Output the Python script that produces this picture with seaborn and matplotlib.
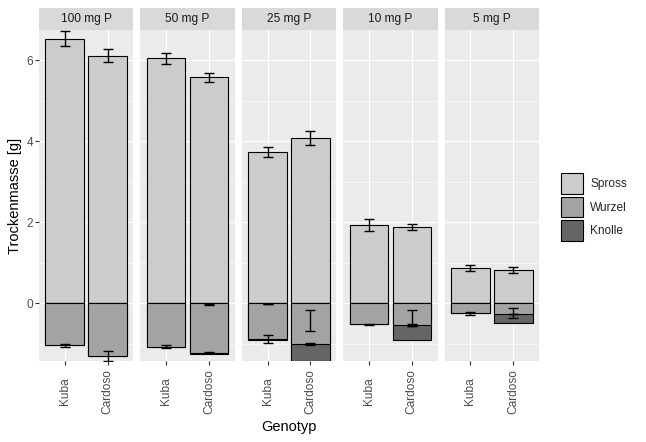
import numpy as np
import pandas as pd
import matplotlib.pyplot as plt
from matplotlib.patches import Patch, Rectangle
from matplotlib.ticker import MultipleLocator
import seaborn as sns

sns.set_theme(style='darkgrid', rc={'axes.facecolor': '#EBEBEB', 'grid.color': 'white'})
plt.rcParams['font.family'] = ['Liberation Sans', 'DejaVu Sans']

# Stufen und Genotypen
levels = ['100 mg P', '50 mg P', '25 mg P', '10 mg P', '5 mg P']
genotypes = ['Kuba', 'Cardoso']
parts = ['Spross', 'Wurzel', 'Knolle']
colors = ['#CCCCCC', '#A3A3A3', '#666666']

# Mittelwerte [g] und Fehler, Reihenfolge wie levels
spross_kuba = [6.53, 6.04, 3.73, 1.93, 0.87]
spross_kuba_sd = [0.18, 0.13, 0.13, 0.15, 0.07]
spross_cardoso = [6.11, 5.57, 4.07, 1.88, 0.82]
spross_cardoso_sd = [0.16, 0.10, 0.17, 0.07, 0.08]

wurzel_kuba = [1.03, 1.07, 0.87, 0.52, 0.24]
wurzel_kuba_sd = [0.04, 0.04, 0.10, 0.015, 0.04]
wurzel_cardoso = [1.30, 1.22, 1.00, 0.53, 0.26]
wurzel_cardoso_sd = [0.12, 0.01, 0.035, 0.025, 0.01]

knolle_kuba = [0.0, 0.0, 0.02, 0.0, 0.0]
knolle_kuba_sd = [0.0, 0.0, 0.006, 0.0, 0.0]
knolle_cardoso = [0.0, 0.02, 0.42, 0.36, 0.23]
knolle_cardoso_sd = [0.0, 0.01, 0.26, 0.20, 0.12]

rows = []
for i, lev in enumerate(levels):
    rows.append([lev, 'Kuba', spross_kuba[i], spross_kuba_sd[i], wurzel_kuba[i],
                 wurzel_kuba_sd[i], knolle_kuba[i], knolle_kuba_sd[i]])
    rows.append([lev, 'Cardoso', spross_cardoso[i], spross_cardoso_sd[i], wurzel_cardoso[i],
                 wurzel_cardoso_sd[i], knolle_cardoso[i], knolle_cardoso_sd[i]])
df = pd.DataFrame(rows, columns=['stufe', 'genotyp', 'spross', 'spross_sd', 'wurzel',
                                 'wurzel_sd', 'knolle', 'knolle_sd'])
# nach unten gestapelt: Wurzel ab 0, Knolle darunter
df['wurzel_neg'] = -df['wurzel']
df['unten'] = -(df['wurzel'] + df['knolle'])

fig, axes = plt.subplots(1, 5, figsize=(6.46, 4.42), dpi=100, sharey=True)
fig.subplots_adjust(left=39/646, right=539/646, top=1-30/442, bottom=1-361/442, wspace=0.075)

bar_kw = dict(x='genotyp', order=genotypes, errorbar=None, saturation=1,
              edgecolor='black', linewidth=0.8, width=0.9)
err_kw = dict(fmt='none', ecolor='black', elinewidth=1.0, capsize=3.6, capthick=1.0, zorder=5)

for ax, lev in zip(axes, levels):
    sub = df[df['stufe'] == lev].set_index('genotyp').loc[genotypes].reset_index()
    sns.barplot(data=sub, y='spross', color=colors[0], ax=ax, **bar_kw)
    sns.barplot(data=sub, y='unten', color=colors[2], ax=ax, **bar_kw)
    sns.barplot(data=sub, y='wurzel_neg', color=colors[1], ax=ax, **bar_kw)

    xs = np.arange(len(genotypes))
    ax.errorbar(xs, sub['spross'], yerr=sub['spross_sd'], **err_kw)
    ax.errorbar(xs, -sub['wurzel'], yerr=sub['wurzel_sd'], **err_kw)
    m = sub['knolle'] > 0
    if m.any():
        ax.errorbar(xs[m.values], -sub['knolle'][m], yerr=sub['knolle_sd'][m], **err_kw)

    ax.set_xlim(-0.6, 1.6)
    ax.set_ylim(-1.42, 6.74)
    ax.yaxis.set_major_locator(MultipleLocator(2))
    ax.yaxis.set_minor_locator(MultipleLocator(1))
    ax.grid(which='major', color='white', linewidth=0.8)
    ax.grid(which='minor', axis='y', color='white', linewidth=0.4)
    ax.set_axisbelow(True)
    for s in ax.spines.values():
        s.set_visible(False)
    ax.set_xlabel('')
    ax.set_ylabel('')

    ax.tick_params(axis='x', which='major', bottom=True, length=2.7, width=0.8,
                   color='#333333', pad=19, labelsize=8.6, labelcolor='#4D4D4D')
    ax.tick_params(axis='y', which='major', left=(ax is axes[0]), length=2.7, width=0.8,
                   color='#333333', pad=1.5, labelsize=8.6, labelcolor='#4D4D4D')
    ax.tick_params(which='minor', length=0)
    plt.setp(ax.get_xticklabels(), rotation=90, va='center', ha='center')

    # Streifen oben
    ax.add_patch(Rectangle((0, 1.0), 1, 0.0665, transform=ax.transAxes,
                           facecolor='#D9D9D9', edgecolor='none', clip_on=False))
    ax.text(0.5, 1.033, lev, transform=ax.transAxes, ha='center', va='center',
            fontsize=8.6, color='#1A1A1A')

fig.text(289/646, 1-427/442, 'Genotyp', ha='center', va='center', fontsize=10.5, color='black')
fig.text(15/646, 1-195.5/442, 'Trockenmasse [g]', ha='center', va='center',
         rotation=90, fontsize=10.5, color='black')

handles = [Patch(facecolor=c, edgecolor='black', linewidth=0.8) for c in colors]
fig.legend(handles, parts, loc='center left', bbox_to_anchor=(561/646, 1-207/442),
           frameon=False, borderpad=0, fontsize=8.6, handlelength=1.8, handleheight=2.3,
           labelspacing=0.25, handletextpad=0.65, borderaxespad=0)

fig.savefig('out.png', dpi=100)
